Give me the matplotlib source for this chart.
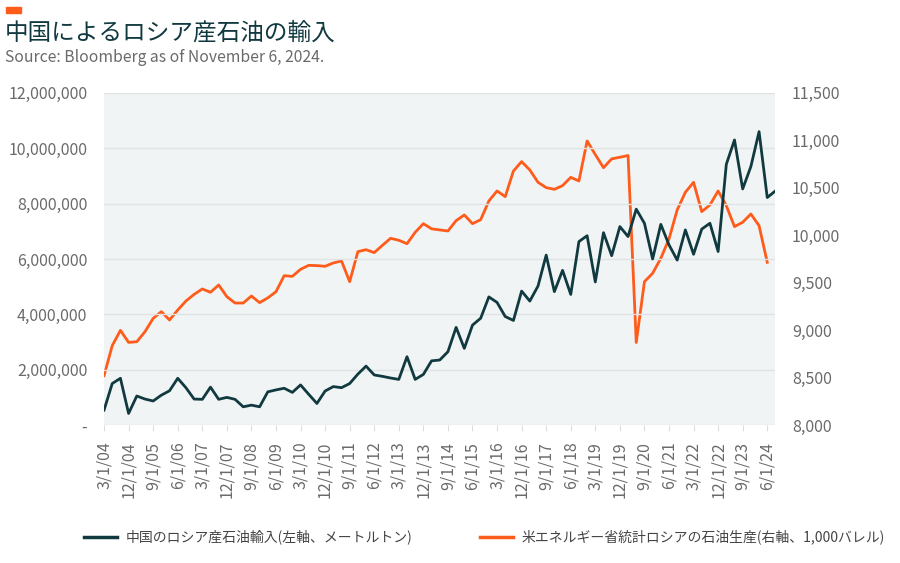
import numpy as np
import matplotlib.pyplot as plt
from matplotlib.ticker import FuncFormatter, MultipleLocator
from matplotlib.lines import Line2D

plt.rcParams['font.family'] = ['Noto Sans CJK JP', 'DejaVu Sans']

title = "中国によるロシア産石油の輸入"
source = "Source: Bloomberg as of November 6, 2024."
label_china = "中国のロシア産石油輸入(左軸、メートルトン)"
label_russia = "米エネルギー省統計ロシアの石油生産(右軸、1,000バレル)"

# quarterly, 3/1/04 .. 9/1/24 (metric tons)
china_imports = [
    0.54, 1.50, 1.69, 0.42, 1.05, 0.94, 0.87, 1.08, 1.24, 1.69,
    1.35, 0.94, 0.93, 1.37, 0.93, 1.00, 0.93, 0.66, 0.72, 0.66,
    1.20, 1.27, 1.33, 1.18, 1.45, 1.11, 0.78, 1.23, 1.39, 1.35,
    1.50, 1.84, 2.13, 1.81, 1.76, 1.70, 1.65, 2.47, 1.65, 1.83,
    2.32, 2.35, 2.65, 3.53, 2.77, 3.61, 3.86, 4.63, 4.43, 3.92,
    3.78, 4.84, 4.48, 5.02, 6.14, 4.82, 5.59, 4.72, 6.63, 6.84,
    5.17, 6.95, 6.12, 7.17, 6.81, 7.80, 7.29, 6.00, 7.25, 6.51,
    5.96, 7.05, 6.17, 7.08, 7.29, 6.27, 9.42, 10.30, 8.53, 9.34,
    10.60, 8.22, 8.46,
]
china_imports = [v * 1e6 for v in china_imports]

# quarterly, 3/1/04 .. 6/1/24 (1,000 barrels)
russia_output = [
    8520, 8836, 8998, 8871, 8878, 8984, 9124, 9195, 9107, 9212,
    9307, 9377, 9434, 9399, 9476, 9353, 9286, 9286, 9360, 9290,
    9340, 9405, 9574, 9567, 9641, 9683, 9680, 9673, 9708, 9729,
    9511, 9827, 9848, 9817, 9894, 9968, 9947, 9911, 10031, 10122,
    10068, 10056, 10045, 10154, 10214, 10122, 10164, 10361, 10467, 10407,
    10677, 10776, 10688, 10558, 10502, 10484, 10523, 10610, 10572, 10994,
    10850, 10712, 10805, 10822, 10840, 8870, 9511, 9599, 9757, 9961,
    10267, 10453, 10558, 10249, 10319, 10467, 10312, 10091, 10137, 10224,
    10101, 9715,
]

tick_labels = [
    "3/1/04", "12/1/04", "9/1/05", "6/1/06", "3/1/07", "12/1/07", "9/1/08",
    "6/1/09", "3/1/10", "12/1/10", "9/1/11", "6/1/12", "3/1/13", "12/1/13",
    "9/1/14", "6/1/15", "3/1/16", "12/1/16", "9/1/17", "6/1/18", "3/1/19",
    "12/1/19", "9/1/20", "6/1/21", "3/1/22", "12/1/22", "9/1/23", "6/1/24",
]

dark = '#113a40'
orange = '#ff5b1a'
grey_txt = '#6a6a6a'

fig = plt.figure(figsize=(9, 5.63), dpi=100)
ax = fig.add_axes([0.1156, 0.245, 0.746, 0.59])
ax2 = ax.twinx()

x1 = np.arange(len(china_imports))
x2 = np.arange(len(russia_output))

ax.grid(axis='y', color='#e0e3e3', linewidth=1)
ax.set_axisbelow(True)

ax.plot(x1, china_imports, color=dark, linewidth=2, zorder=3)
ax2.plot(x2, russia_output, color=orange, linewidth=2)
ax.set_zorder(ax2.get_zorder() + 1)
ax.patch.set_visible(False)
ax2.patch.set_visible(True)
ax2.patch.set_facecolor('#f1f4f4')

ax.set_xlim(0, len(china_imports) - 1)
ax.set_ylim(0, 12e6)
ax.yaxis.set_major_locator(MultipleLocator(2e6))
ax.yaxis.set_major_formatter(FuncFormatter(lambda v, p: '-' if v == 0 else f'{v:,.0f}'))
ax2.set_ylim(8000, 11500)
ax2.yaxis.set_major_locator(MultipleLocator(500))
ax2.yaxis.set_major_formatter(FuncFormatter(lambda v, p: f'{v:,.0f}'))

ax.set_xticks(np.arange(0, len(russia_output), 3))
ax.set_xticklabels(tick_labels, rotation=90)

for a in (ax, ax2):
    for s in a.spines.values():
        s.set_visible(False)
ax.tick_params(axis='x', length=4, color='#dcdcdc', pad=8, labelsize=11.5, labelcolor=grey_txt)
ax.tick_params(axis='y', length=0, pad=12, labelsize=11.5, labelcolor=grey_txt)
ax2.tick_params(axis='y', length=0, pad=12, labelsize=11.5, labelcolor=grey_txt)

# header
fig.patches.append(plt.Rectangle((6 / 900, 1 - 13 / 563), 15 / 900, 6 / 563,
                                 transform=fig.transFigure, color=orange))
fig.text(5 / 900, 1 - 33 / 563, title, fontsize=17, color=dark, va='center')
fig.text(5 / 900, 1 - 58 / 563, source, fontsize=11.3, color=grey_txt, va='center')

handles = [Line2D([], [], color=dark, linewidth=2.5),
           Line2D([], [], color=orange, linewidth=2.5)]
fig.legend(handles, [label_china, label_russia], loc='center',
           bbox_to_anchor=(0.538, 0.046), ncol=2, frameon=False,
           handlelength=2.4, handletextpad=0.6, columnspacing=4.9,
           prop={'size': 10}, labelcolor='#444444')

fig.savefig('out.png', dpi=100)
